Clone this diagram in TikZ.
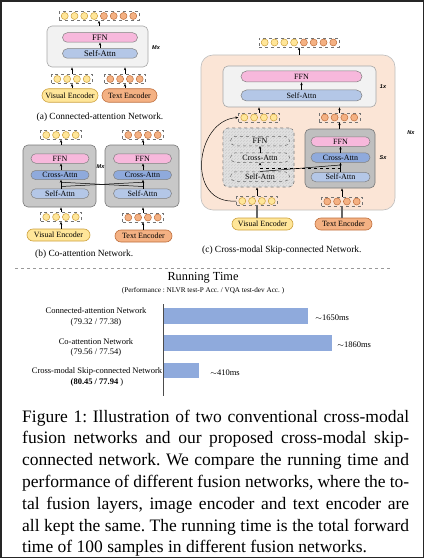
\documentclass[tikz,border=0pt]{standalone}
\usepackage{fontspec}
\setmainfont{Liberation Serif}
\newfontfamily\lsans{Liberation Sans}
\usetikzlibrary{arrows.meta,shapes.misc,patterns,fit,calc}
\frenchspacing
\definecolor{ffncol}{RGB}{247,184,220}
\definecolor{sacol}{RGB}{180,199,231}
\definecolor{cacol}{RGB}{143,170,220}
\definecolor{ytokf}{RGB}{255,230,153}
\definecolor{ytokd}{RGB}{204,160,60}
\definecolor{otokf}{RGB}{244,177,131}
\definecolor{otokd}{RGB}{190,110,60}
\definecolor{lightblk}{RGB}{242,242,242}
\definecolor{lightblkd}{RGB}{166,166,166}
\definecolor{darkblk}{RGB}{200,200,200}
\definecolor{darkblkd}{RGB}{120,120,120}
\definecolor{peach}{RGB}{251,229,214}
\definecolor{peachd}{RGB}{190,190,190}
\definecolor{barcol}{RGB}{143,170,220}
\tikzset{
  arr/.style={-{Stealth[length=3pt,width=2.4pt]}, line width=0.5pt, black},
  pill/.style={rounded rectangle, draw=black!50, line width=0.5pt, inner sep=0pt, font=\fontsize{8}{8}\selectfont},
  ffn/.style={pill, fill=ffncol},
  sa/.style={pill, fill=sacol},
  ca/.style={pill, fill=cacol},
  ghostpill/.style={pill, dashed, draw=black!60},
  venc/.style={pill, fill=ytokf, draw=ytokd, line width=0.6pt},
  tenc/.style={pill, fill=otokf, draw=otokd, line width=0.6pt},
  tok/.style={circle, minimum size=7pt, inner sep=0pt, line width=0.5pt},
  ytok/.style={tok, fill=ytokf, draw=ytokd},
  otok/.style={tok, fill=otokf, draw=otokd},
  tokbox/.style={rectangle, dashed, draw=black!55, line width=0.4pt, inner sep=0pt, minimum height=9pt},
  lblk/.style={rectangle, rounded corners=5pt, fill=lightblk, draw=lightblkd, line width=0.6pt, inner sep=0pt},
  dblk/.style={rectangle, rounded corners=5pt, fill=darkblk, draw=darkblkd, line width=0.6pt, inner sep=0pt},
  gblk/.style={rectangle, rounded corners=5pt, fill=black!12, draw=black!55, dashed, line width=0.6pt, inner sep=0pt,
     postaction={pattern=north east lines, pattern color=black!20}},
  pblk/.style={rectangle, rounded corners=12pt, fill=peach, draw=peachd, line width=0.6pt, inner sep=0pt},
  rep/.style={font=\lsans\itshape\bfseries\fontsize{5.5}{5.5}\selectfont},
  subcap/.style={font=\fontsize{9.4}{9.4}\selectfont},
  figcap/.style={anchor=base west, inner sep=0pt, font=\fontsize{17.5}{21.8}\selectfont},
  barlbl/.style={align=center, font=\fontsize{8.5}{10.3}\selectfont, inner sep=0pt},
  barval/.style={anchor=west, inner sep=0pt, font=\fontsize{8.5}{8.5}\selectfont},
  barbox/.style={fill=barcol, draw=none, inner sep=0pt},
  enclink/.style={line width=1.1pt, black!60}
}
\newcommand\tokgroup[5]{%
  \pgfmathtruncatemacro\tgn{#4+#5}%
  \node[tokbox, minimum width={\tgn*9.8pt+1.5pt}] (#1) at (#2,#3) {};
  \foreach \k in {1,...,\tgn}{%
    \pgfmathsetmacro\tgx{#2+(\k-(\tgn+1)/2)*9.8}%
    \ifnum\k>#4\relax
      \node[otok] (#1-\k) at (\tgx,#3) {};%
    \else
      \node[ytok] (#1-\k) at (\tgx,#3) {};%
    \fi
  }%
}
\begin{document}
\begin{tikzpicture}[x=1pt,y=-1pt]
\useasboundingbox (0,0) rectangle (425,559);
\draw[line width=1.2pt, black!85] (1,1) rectangle (423.5,557.5);

% ---------------- (a) ----------------
\node[lblk, fit={(47,26)(148,67)}] (aBlk) {};
\node[ffn, minimum width=75pt, minimum height=9.5pt, font=\fontsize{8.5}{8.5}\selectfont] (aFFN) at (100,37.5) {FFN};
\node[sa, minimum width=75pt, minimum height=9.5pt, font=\fontsize{8.5}{8.5}\selectfont] (aSA) at (100,53.5) {Self-Attn};
\node[rep] (aM) at (156,48) {Mx};
\tokgroup{aOut}{99}{16}{4}{4}
\tokgroup{aV}{72}{79}{4}{0}
\tokgroup{aT}{125}{79}{0}{4}
\node[venc, minimum width=56pt, minimum height=13.5pt] (aVE) at (70,95.5) {Visual Encoder};
\node[tenc, minimum width=55pt, minimum height=13.5pt] (aTE) at (129.5,95.5) {Text Encoder};
\draw[arr] (aSA.north) -- (aFFN.south);
\draw[arr] (aBlk.north -| aOut) -- (aOut.south);
\draw[arr] (aV.north) -- (aV.north |- aBlk.south);
\draw[arr] (aT.north) -- (aT.north |- aBlk.south);
\draw[arr] (aVE.north -| aV) -- (aV.south);
\draw[arr] (aTE.north -| aT) -- (aT.south);
\node[subcap] (aCap) at (100,117) {(a) Connected-attention Network.};

% ---------------- (b) ----------------
\node[dblk, fit={(23,145)(96,207)}] (bBlkL) {};
\node[dblk, fit={(105,145)(179,207)}] (bBlkR) {};
\node[ffn, minimum width=58pt, minimum height=9.5pt] (bFFNL) at (60,158.5) {FFN};
\node[ca, minimum width=58pt, minimum height=9pt] (bCAL) at (60,175) {Cross-Attn};
\node[sa, minimum width=58pt, minimum height=9.5pt] (bSAL) at (60,193.5) {Self-Attn};
\node[ffn, minimum width=58pt, minimum height=9.5pt] (bFFNR) at (142.5,158.5) {FFN};
\node[ca, minimum width=58pt, minimum height=9pt] (bCAR) at (142.5,175) {Cross-Attn};
\node[sa, minimum width=58pt, minimum height=9.5pt] (bSAR) at (142.5,193.5) {Self-Attn};
\node[rep] (bM) at (100.5,167) {Mx};
\tokgroup{bOutL}{61}{135}{4}{0}
\tokgroup{bOutR}{143}{135}{0}{4}
\tokgroup{bV}{61}{217}{4}{0}
\tokgroup{bT}{143}{217.5}{0}{4}
\node[venc, minimum width=63pt, minimum height=12pt] (bVE) at (58.5,235) {Visual Encoder};
\node[tenc, minimum width=57pt, minimum height=12pt] (bTE) at (143.5,236) {Text Encoder};
\draw[arr] (bCAL.north -| bOutL) -- (bFFNL.south -| bOutL);
\draw[arr] (bCAR.north -| bOutR) -- (bFFNR.south -| bOutR);
\draw[arr] (bSAL.north -| bOutL) -- (bCAL.south -| bOutL);
\draw[arr] (bSAR.north -| bOutR) -- (bCAR.south -| bOutR);
\coordinate (bXL1) at ($(bSAL.north -| bOutL)+(0,-2)$);
\coordinate (bXL2) at ($(bCAL.south -| bOutL)+(0,2.5)$);
\coordinate (bXR1) at ($(bSAR.north -| bOutR)+(0,-2)$);
\coordinate (bXR2) at ($(bCAR.south -| bOutR)+(0,2.5)$);
\draw[line width=0.5pt] (bXL1) -- (bXR2);
\draw[line width=0.5pt] (bXR1) -- (bXL2);
\draw[arr] (bBlkL.north -| bOutL) -- (bOutL.south);
\draw[arr] (bBlkR.north -| bOutR) -- (bOutR.south);
\draw[arr] (bV.north) -- (bV.north |- bBlkL.south);
\draw[arr] (bT.north) -- (bT.north |- bBlkR.south);
\draw[arr] (bVE.north -| bV) -- (bV.south);
\draw[arr] (bTE.north -| bT) -- (bT.south);
\node[subcap, anchor=west, inner sep=0pt] (bCap) at (35,254) {(b) Co-attention Network.};

% ---------------- (c) ----------------
\node[pblk, fit={(201,55)(395,210)}] (cN) {};
\node[lblk, fit={(223,66)(376,107)}] (c1) {};
\node[ffn, minimum width=121pt, minimum height=11pt] (cFFN) at (301.5,76.5) {FFN};
\node[sa, minimum width=121pt, minimum height=11pt] (cSA) at (301.5,95.5) {Self-Attn};
\node[rep] (c1x) at (383,87) {1x};
\node[rep] (cNx) at (411,133) {Nx};
\node[rep] (cSx) at (383,158) {Sx};
\tokgroup{cOut}{299}{42.5}{4}{4}
\tokgroup{cMidV}{259}{117.5}{4}{0}
\tokgroup{cMidT}{339.5}{117.5}{0}{4}
\node[gblk, fit={(223,128)(294,187)}] (cG) {};
\node[ghostpill, minimum width=59pt, minimum height=9.5pt] (cFFNG) at (260,141) {FFN};
\node[ghostpill, minimum width=59pt, minimum height=9.5pt] (cCAG) at (260,157.5) {Cross-Attn};
\node[ghostpill, minimum width=59pt, minimum height=9.5pt] (cSAG) at (260,176.5) {Self-Attn};
\node[dblk, fit={(305,129)(375,188)}, fill=black!25] (cS) {};
\node[ffn, minimum width=59pt, minimum height=9.5pt] (cFFNR) at (340.5,141.5) {FFN};
\node[ca, minimum width=59pt, minimum height=9.5pt] (cCAR) at (340.5,157.5) {Cross-Attn};
\node[sa, minimum width=59pt, minimum height=9.5pt] (cSAR) at (340.5,177) {Self-Attn};
\tokgroup{cV}{257}{201}{4}{0}
\tokgroup{cT}{342}{201.5}{0}{4}
\node[venc, minimum width=61pt, minimum height=12pt] (cVE) at (262.5,224) {Visual Encoder};
\node[tenc, minimum width=57pt, minimum height=12pt] (cTE) at (343.5,224) {Text Encoder};
\draw[arr] (cN.north -| cOut) -- (cOut.south);
\draw[arr] (cSA.north) -- (cFFN.south);
\draw[arr] (cMidV.north) -- (cMidV.north |- c1.south);
\draw[arr] (cMidT.north) -- (cMidT.north |- c1.south);
\draw[arr] (cS.north -| cMidT) -- (cMidT.south);
\draw[arr] (cCAG.north) -- (cFFNG.south);
\draw[arr] (cCAR.north) -- (cFFNR.south);
\draw[arr] (cSAR.north) -- (cCAR.south);
\coordinate (cJR) at ($(cSAR.north)+(0,-4)$);
\coordinate (cJS) at ($(cSAR.north)+(0,-7)$);
\draw[arr, dashed] (cJR) -- (cCAG.south |- cJR) -- (cCAG.south);
\draw[line width=0.5pt] (cSAG.north) -- (cJS);
\draw[arr] (cV.north) -- (cV.north |- cG.south);
\draw[arr] (cT.north) -- (cT.north |- cS.south);
\draw[enclink] (cVE.north -| cV) -- (cV.south);
\draw[enclink] (cTE.north -| cT) -- (cT.south);
\draw[arr] (cV.west) .. controls (185,205) and (195,120) .. (cMidV.west);
\node[subcap, anchor=west, inner sep=0pt] (cCap) at (202,250) {(c) Cross-modal Skip-connected Network.};

\draw[dashed, black!40, line width=0.5pt] (15,268) -- (390,268);

% ---------------- chart ----------------
\node[font=\fontsize{12.3}{12.3}\selectfont] (rtT) at (203,278) {Running Time};
\node[font=\fontsize{7.2}{7.2}\selectfont] (rtS) at (203,290.5) {(Performance : NLVR test-P Acc. / VQA test-dev Acc. )};
\draw[line width=0.8pt, black!70] (163,304) -- (163,396);
\node[barbox, fit={(164,308)(308,324)}] (bar1) {};
\node[barbox, fit={(164,335)(332,351)}] (bar2) {};
\node[barbox, fit={(164,363)(199,378)}] (bar3) {};
\node[barval] (v1) at ($(bar1.east)+(7,2)$) {$\sim$1650ms};
\node[barval] (v2) at ($(bar2.east)+(5,2)$) {$\sim$1860ms};
\node[barval] (v3) at ($(bar3.east)+(11,2)$) {$\sim$410ms};
\node[barlbl] (l1) at (96,317) {Connected-attention Network\\(79.32 / 77.38)};
\node[barlbl] (l2) at (96,347.5) {Co-attention Network\\(79.56 / 77.54)};
\node[barlbl] (l3) at (97,377) {Cross-modal Skip-connected Network\\\textbf{(80.45 / 77.94} )};

% ---------------- caption ----------------
\node[figcap] (cap1) at (22,422) {\makebox[387pt][s]{Figure 1: Illustration of two conventional cross-modal}};
\node[figcap] (cap2) at (22,443.8) {\makebox[387pt][s]{fusion networks and our proposed cross-modal skip-}};
\node[figcap] (cap3) at (22,465.6) {\makebox[387pt][s]{connected network. We compare the running time and}};
\node[figcap] (cap4) at (22,487.4) {\makebox[387pt][s]{performance of different fusion networks, where the to-}};
\node[figcap] (cap5) at (22,509.2) {\makebox[387pt][s]{tal fusion layers, image encoder and text encoder are}};
\node[figcap] (cap6) at (22,531) {\makebox[387pt][s]{all kept the same. The running time is the total forward}};
\node[figcap] (cap7) at (22,552.8) {time of 100 samples in different fusion networks.};
\end{tikzpicture}
\end{document}
